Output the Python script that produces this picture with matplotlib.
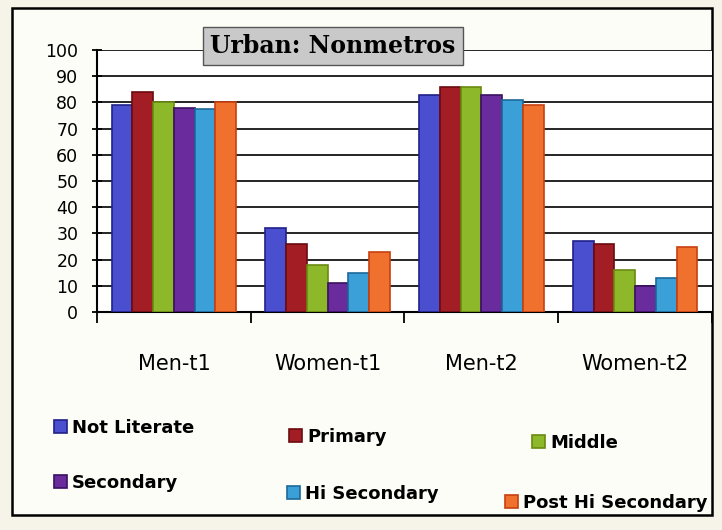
import matplotlib.pyplot as plt
import matplotlib.patches as mpatches
import numpy as np

groups = ["Men-t1", "Women-t1", "Men-t2", "Women-t2"]
levels = ["Not Literate", "Primary", "Middle", "Secondary", "Hi Secondary", "Post Hi Secondary"]
not_literate = [79, 32, 83, 27]
primary = [84, 26, 86, 26]
middle = [80, 18, 86, 16]
secondary = [78, 11, 83, 10]
hi_secondary = [77.5, 15, 81, 13]
post_hi = [80, 23, 79, 25]
series = [not_literate, primary, middle, secondary, hi_secondary, post_hi]
colors = ["#4a4fd0", "#a31e24", "#8db82a", "#6a2c9c", "#3b9fd8", "#f0712e"]
edges = ["#20208a", "#6a0c10", "#6a8a10", "#3a1060", "#1c6a9a", "#c84010"]

fig = plt.figure(figsize=(7.22, 5.30), dpi=100, facecolor="#f6f4e8")
frame = mpatches.Rectangle((12 / 722, 1 - 515 / 530), 700 / 722, 507 / 530,
                           transform=fig.transFigure, facecolor="#fdfdf8",
                           edgecolor="black", linewidth=1.8, zorder=-10)
fig.patches.append(frame)

ax = fig.add_axes([97 / 722, 1 - 312 / 530, 615 / 722, 262 / 530])
ax.set_facecolor("white")
x = np.arange(len(groups))
w = 0.135
for i, (vals, lab) in enumerate(zip(series, levels)):
    ax.bar(x + (i - 2.5) * w, vals, w, color=colors[i], edgecolor=edges[i],
           linewidth=1.2, label=lab, zorder=3)

ax.set_ylim(0, 100)
ax.set_xlim(-0.5, 3.5)
ax.set_yticks(range(0, 101, 10))
ax.yaxis.grid(True, color="black", linewidth=1.2, zorder=0)
ax.set_axisbelow(True)
ax.tick_params(axis="y", labelsize=12.5, length=7, width=1.3, direction="inout", pad=10)
ax.set_xticks(x)
ax.set_xticklabels(groups, fontsize=15)
ax.tick_params(axis="x", length=0, pad=30)
ax.set_xticks(np.arange(-0.5, 4, 1), minor=True)
ax.tick_params(axis="x", which="minor", length=8, width=1.3)
for s in ["top", "right"]:
    ax.spines[s].set_visible(False)
ax.spines["left"].set_linewidth(1.5)
ax.spines["bottom"].set_linewidth(1.5)

fig.text(333 / 722, 1 - 46 / 530, "Urban: Nonmetros", fontsize=17, fontweight="bold",
         family="DejaVu Serif", ha="center", va="center",
         bbox=dict(boxstyle="square,pad=0.3", facecolor="#c9c9c9", edgecolor="#555555"))

handles, labels = ax.get_legend_handles_labels()
pos = [(45, 428), (280, 437), (523, 443), (45, 483), (278, 494), (496, 503)]
for h, lab, (px, py) in zip(handles, labels, pos):
    fig.legend([h], [lab], loc="center left", bbox_to_anchor=(px / 722, 1 - py / 530),
               frameon=False, handlelength=0.7, handleheight=0.7, handletextpad=0.3,
               borderpad=0, prop=dict(size=13, weight="bold"))

fig.savefig("out.png", dpi=100, facecolor=fig.get_facecolor())
